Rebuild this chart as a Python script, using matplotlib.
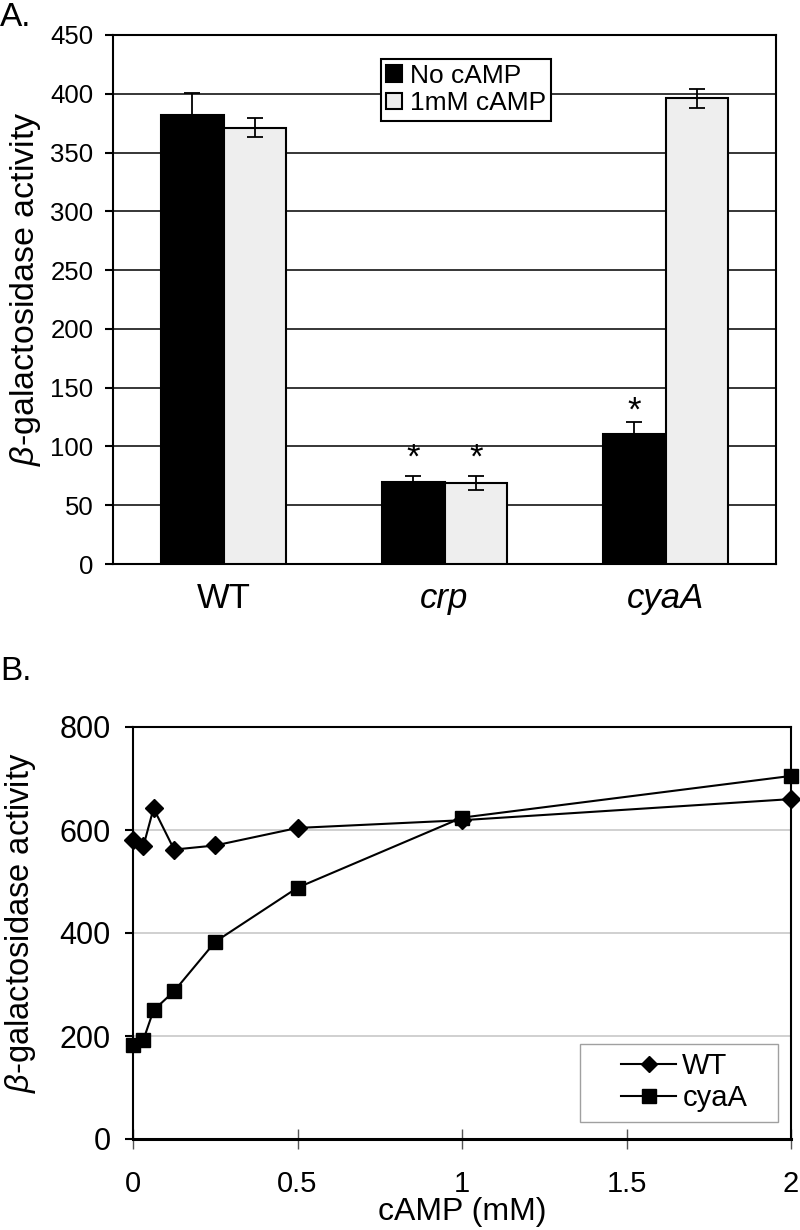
import matplotlib
matplotlib.use("Agg")
import matplotlib.pyplot as plt
from matplotlib.patches import Rectangle
import numpy as np

plt.rcParams['font.family'] = ['Liberation Sans', 'DejaVu Sans']
plt.rcParams['mathtext.fontset'] = 'custom'
plt.rcParams['mathtext.rm'] = 'Liberation Sans'
plt.rcParams['mathtext.it'] = 'Liberation Sans:italic'

# ---- Panel A data ----
strains = ['WT', 'crp', 'cyaA']
no_camp = [382, 70, 111]
no_camp_err = [19, 5, 10]
with_camp = [371, 69, 396]
with_camp_err = [8, 6, 8]
star_no = [False, True, True]
star_with = [False, True, False]
star_y_no = [None, 90, 130]
star_y_with = [None, 90, None]
a_yticks = [0, 50, 100, 150, 200, 250, 300, 350, 400, 450]

# ---- Panel B data ----
camp_mM = [0, 0.03125, 0.0625, 0.125, 0.25, 0.5, 1, 2]
wt_activity = [580, 568, 642, 562, 570, 604, 619, 660]
cyaA_activity = [183, 192, 250, 287, 383, 488, 624, 705]
b_yticks = [0, 200, 400, 600, 800]
b_xticks = [0, 0.5, 1, 1.5, 2]
b_xticklabels = ['0', '0.5', '1', '1.5', '2']

ylab = r'$\it{\beta}$-galactosidase activity'

fig = plt.figure(figsize=(8, 12.3), dpi=100)

# ================= Panel A =================
axA = fig.add_axes([113/800, 1-564/1230, (776-113)/800, (564-35)/1230])
x = np.arange(len(strains))
w = 0.285
axA.bar(x - w/2, no_camp, w, color='black', edgecolor='black', linewidth=1.5,
        label='No cAMP', zorder=3)
axA.bar(x + w/2, with_camp, w, color='#eeeeee', edgecolor='black', linewidth=1.5,
        label='1mM cAMP', zorder=3)
axA.errorbar(x - w/2, no_camp, yerr=no_camp_err, fmt='none', ecolor='black',
             elinewidth=1.3, capsize=6, capthick=1.3, zorder=4)
axA.errorbar(x + w/2, with_camp, yerr=with_camp_err, fmt='none', ecolor='black',
             elinewidth=1.3, capsize=6, capthick=1.3, zorder=4)
for i in range(len(strains)):
    if star_no[i]:
        axA.text(x[i] - w/2, star_y_no[i], '*', ha='center', va='center',
                 fontsize=25, zorder=5)
    if star_with[i]:
        axA.text(x[i] + w/2, star_y_with[i], '*', ha='center', va='center',
                 fontsize=25, zorder=5)
axA.set_xlim(-0.5, 2.5)
axA.set_ylim(0, 450)
axA.set_yticks(a_yticks)
axA.yaxis.grid(True, color='black', linewidth=1.1, zorder=0)
axA.set_axisbelow(True)
axA.set_xticks(x)
axA.set_xticklabels(strains, fontsize=25)
for lbl in axA.get_xticklabels()[1:]:
    lbl.set_fontstyle('italic')
axA.tick_params(axis='x', length=0, pad=13)
axA.tick_params(axis='y', direction='out', length=6, width=1.5, labelsize=18.5, pad=8)
for s in axA.spines.values():
    s.set_linewidth(1.5)
axA.set_ylabel(ylab, fontsize=24.5)
axA.yaxis.set_label_coords(-0.105, 0.52)
leg = axA.legend(loc='upper left', bbox_to_anchor=(0.404, 0.955), fontsize=19,
                 frameon=True, fancybox=False, edgecolor='black', framealpha=1,
                 handlelength=0.6, handleheight=0.6, handletextpad=0.3,
                 borderpad=0.2, labelspacing=0.12, borderaxespad=0)
leg.get_frame().set_linewidth(1.5)
fig.text(0.0, 1-18/1230, 'A.', fontsize=24, va='center', ha='left')

# ================= Panel B =================
axB = fig.add_axes([133/800, 1-1139/1230, (791-133)/800, (1139-727)/1230])
axB.plot(camp_mM, wt_activity, color='black', linewidth=1.5, marker='D',
         markersize=9, label='WT', zorder=4, clip_on=False)
axB.plot(camp_mM, cyaA_activity, color='black', linewidth=1.5, marker='s',
         markersize=10.5, label='cyaA', zorder=4, clip_on=False)
axB.set_xlim(0, 2)
axB.set_ylim(0, 800)
axB.set_yticks(b_yticks)
axB.set_xticks(b_xticks)
axB.set_xticklabels(b_xticklabels)
axB.yaxis.grid(True, color='#c8c8c8', linewidth=1.2, zorder=0)
axB.set_axisbelow(True)
axB.tick_params(axis='y', direction='out', length=6, width=1.5, labelsize=22, pad=10)
axB.tick_params(axis='x', direction='inout', length=14, width=1.0, labelsize=21, pad=15,
                color='#555555')
for s in axB.spines.values():
    s.set_linewidth(1.5)
axB.spines['bottom'].set_linewidth(2.2)
axB.set_ylabel(ylab, fontsize=23.5)
axB.yaxis.set_label_coords(-0.144, 0.524)
fig.text((133 + 791) / 2 / 800, 1 - 1212/1230, 'cAMP (mM)', fontsize=23,
         ha='center', va='center')
# legend with a grey frame
axB.add_patch(Rectangle((0.679, 0.041), 0.301, 0.190, transform=axB.transAxes,
                        facecolor='white', edgecolor='#a0a0a0', linewidth=1.0,
                        zorder=5))
legB = axB.legend(loc='center left', bbox_to_anchor=((621-133)/658, (1139-1082)/412),
                  fontsize=21, frameon=False, handlelength=1.9, handletextpad=0.2,
                  borderpad=0, labelspacing=0.12, borderaxespad=0, markerscale=0.95)
legB.set_zorder(6)
fig.text(0.0, 1-672/1230, 'B.', fontsize=24, va='center', ha='left')

fig.savefig('out.png', dpi=100)
